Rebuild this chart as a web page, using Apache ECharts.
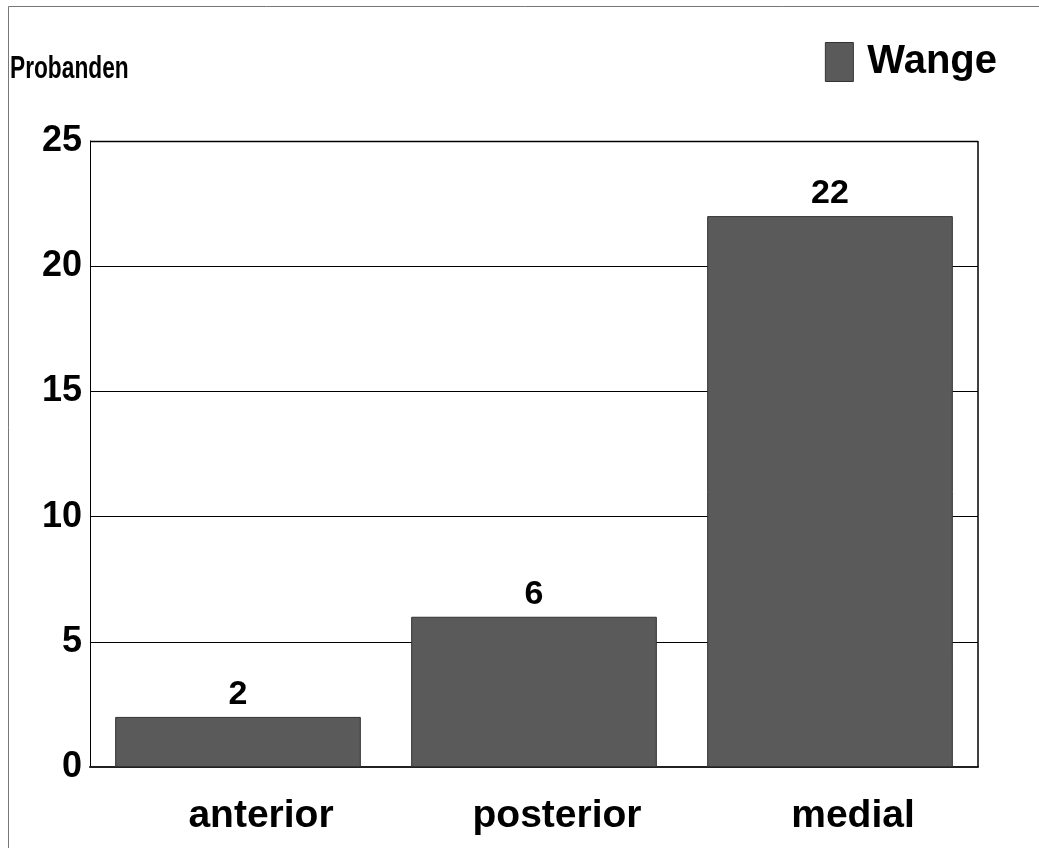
<!DOCTYPE html>
<html>
<head>
<meta charset="utf-8">
<style>
  html, body { margin: 0; padding: 0; background: #fff; }
  #chart { width: 1039px; height: 848px; }
</style>
<script src="https://cdn.jsdelivr.net/npm/echarts@6/dist/echarts.min.js"></script>
</head>
<body>
<div id="chart"></div>
<script>
// Number of subjects per cheek region
const categories = ['anterior', 'posterior', 'medial'];
const wangeValues = [2, 6, 22];
const seriesName = 'Wange';
const yAxisTitle = 'Probanden';
const yMin = 0, yMax = 25, yStep = 5;

const FONT = '"Liberation Sans", Arial, sans-serif';
const chart = echarts.init(document.getElementById('chart'));

chart.setOption({
  animation: false,
  backgroundColor: '#fff',
  grid: { left: 90, right: 61, top: 141, bottom: 81 },
  legend: {
    data: [seriesName],
    right: 37, top: 37,
    icon: 'rect',
    itemWidth: 28, itemHeight: 39, itemGap: 10,
    textStyle: { fontFamily: FONT, fontSize: 40, fontWeight: 'bold', color: '#000', padding: [0, 0, 0, 9] },
    itemStyle: { borderColor: '#333', borderWidth: 1 }
  },
  xAxis: {
    type: 'category',
    data: categories,
    axisLine: { show: true, lineStyle: { color: '#222', width: 2 } },
    axisTick: { show: false },
    axisLabel: { margin: 30, fontFamily: FONT, fontSize: 39, fontWeight: 'bold', color: '#000', padding: [0, 0, 0, 46] },
    splitLine: { show: false }
  },
  yAxis: {
    type: 'value',
    min: yMin, max: yMax, interval: yStep,
    axisLine: { show: true, lineStyle: { color: '#000', width: 1 } },
    axisTick: { show: false },
    axisLabel: { margin: 8, fontFamily: FONT, fontSize: 36, fontWeight: 'bold', color: '#000' },
    splitLine: { show: true, lineStyle: { color: '#000', width: 1 } }
  },
  graphic: [
    // outer frame
    { type: 'rect', z: -1, silent: true,
      shape: { x: 8.5, y: 6.5, width: 1100, height: 900 },
      style: { fill: 'none', stroke: '#777', lineWidth: 1 } },
    // top and right edges of the plot area
    { type: 'line', z: 5, silent: true,
      shape: { x1: 90, y1: 141.5, x2: 978, y2: 141.5 },
      style: { stroke: '#000', lineWidth: 1.5 } },
    { type: 'line', z: 5, silent: true,
      shape: { x1: 978, y1: 141, x2: 978, y2: 767 },
      style: { stroke: '#000', lineWidth: 1.5 } },
    // axis title, set tight
    { type: 'text', x: 10, y: 53, scaleX: 0.71, silent: true,
      style: { text: yAxisTitle, font: 'bold 32px ' + FONT, fill: '#000', verticalAlign: 'top' } }
  ],
  series: [{
    name: seriesName,
    type: 'bar',
    data: wangeValues,
    barCategoryGap: '17%',
    itemStyle: { color: '#5a5a5a', borderColor: '#333', borderWidth: 1 },
    label: {
      show: true, position: 'top', distance: 5,
      fontFamily: FONT, fontSize: 34, fontWeight: 'bold', color: '#000'
    }
  }]
});
</script>
</body>
</html>
